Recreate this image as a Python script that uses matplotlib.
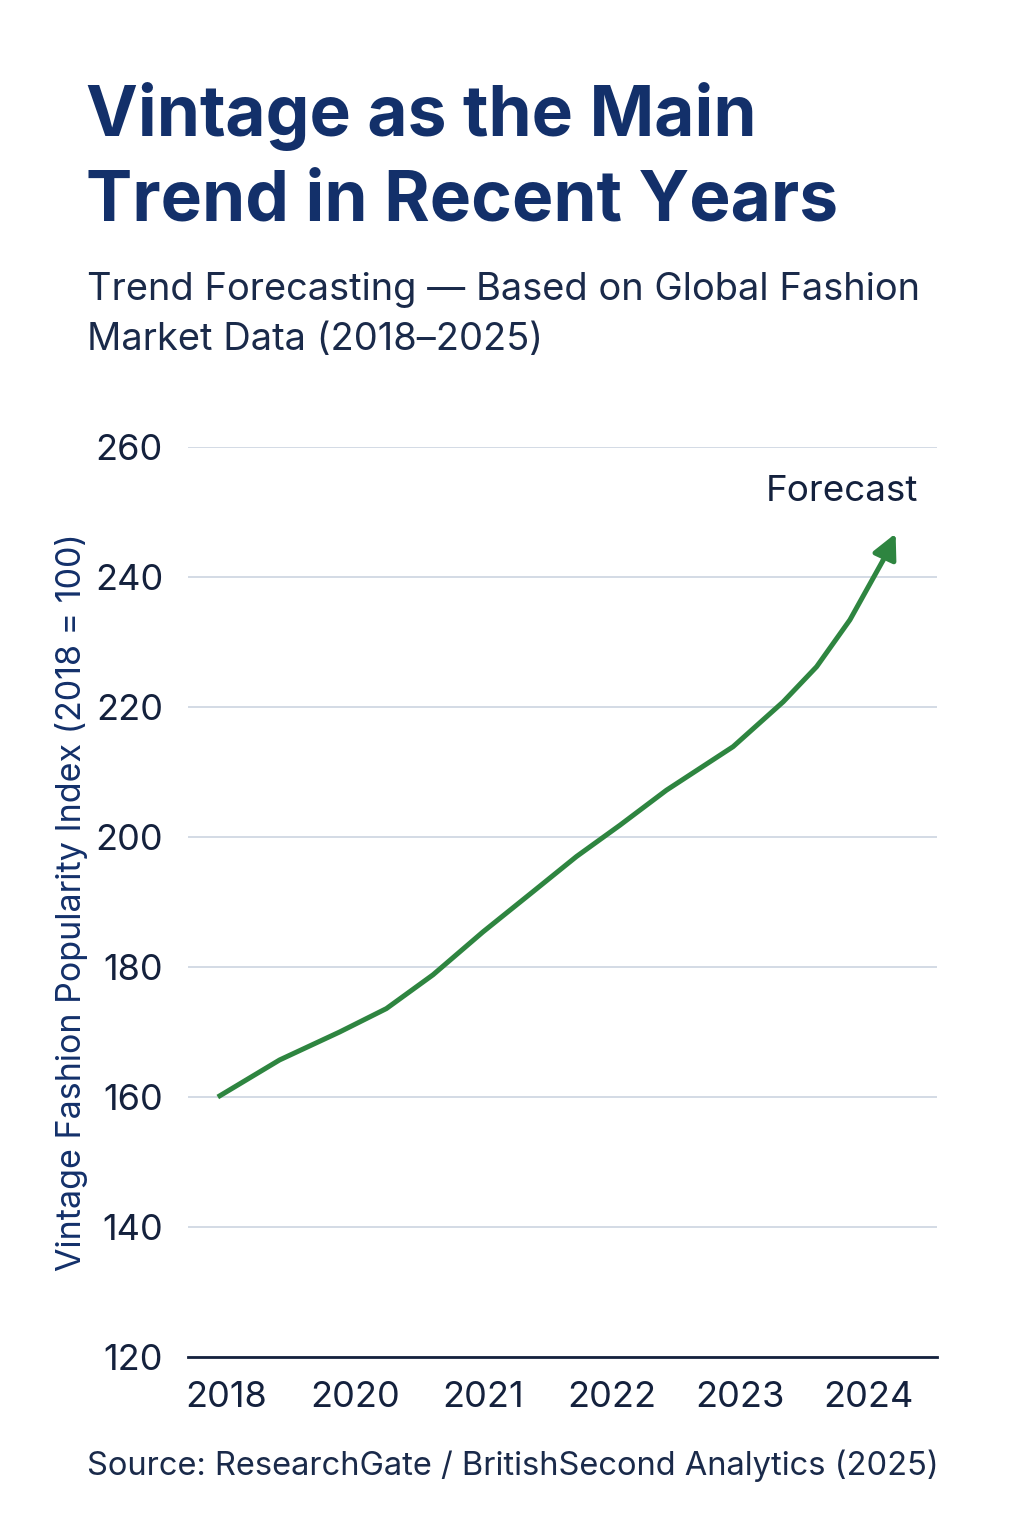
import matplotlib
matplotlib.use("Agg")
import matplotlib.pyplot as plt

plt.rcParams['font.family'] = ['Inter', 'DejaVu Sans']

# tick labels along the x axis (evenly spaced categories)
years = ["2018", "2020", "2021", "2022", "2023", "2024"]

# curve: position along the year axis, index value
curve_x = [-0.068, 0.413, 0.880, 1.244, 1.607, 1.996, 2.386, 2.724, 3.061,
           3.424, 3.943, 4.333, 4.593, 4.852, 5.111, 5.208]
curve_y = [160, 165.7, 170.0, 173.6, 178.8, 185.4, 191.6, 197.0, 201.8,
           207.2, 213.9, 220.8, 226.2, 233.4, 242.6, 246.7]

y_ticks = [120, 140, 160, 180, 200, 220, 240, 260]

navy = "#13306a"
ink = "#14213d"
green = "#2e8540"

fig = plt.figure(figsize=(10.24, 15.36), dpi=100)
ax = fig.add_axes([188 / 1024, 1 - 1357 / 1536, (937 - 188) / 1024, (1357 - 447) / 1536])

ax.plot(curve_x[:-1], curve_y[:-1], color=green, lw=3.6, solid_capstyle="butt",
        solid_joinstyle="round")
ax.annotate("", xy=(curve_x[-1], curve_y[-1]), xytext=(curve_x[-2], curve_y[-2]),
            arrowprops=dict(arrowstyle="-|>,head_length=1.5,head_width=0.75",
                            color=green, lw=3.6, shrinkA=0, shrinkB=0))

ax.set_xlim(-0.30, 5.53)
ax.set_ylim(120, 260)
ax.set_yticks(y_ticks)
ax.set_xticks(range(len(years)))
ax.set_xticklabels(years)
ax.tick_params(length=0, labelsize=26, colors=ink)
ax.tick_params(axis="x", pad=17)
ax.tick_params(axis="y", pad=18)
ax.grid(axis="y", color="#d3dbe5", lw=1.4)
ax.set_axisbelow(True)
for s in ["left", "right", "top"]:
    ax.spines[s].set_visible(False)
ax.spines["bottom"].set_color(ink)
ax.spines["bottom"].set_linewidth(2)

ax.set_ylabel("Vintage Fashion Popularity Index (2018 = 100)", fontsize=24.5, color=navy)
ax.yaxis.set_label_coords(-0.133, 0.5)

ax.text(4.79, 253.2, "Forecast", fontsize=26.5, color=ink, ha="center", va="center")

fig.text(86 / 1024, 1 - 82 / 1536, "Vintage as the Main\nTrend in Recent Years",
         fontsize=50, fontweight="bold", color=navy, va="top", ha="left", linespacing=1.36)
fig.text(87 / 1024, 1 - 272 / 1536, "Trend Forecasting — Based on Global Fashion\nMarket Data (2018–2025)",
         fontsize=27.4, color="#1a2a4a", va="top", ha="left", linespacing=1.5)
fig.text(87 / 1024, 1 - 1466 / 1536, "Source: ResearchGate / BritishSecond Analytics (2025)",
         fontsize=23.5, color="#1a2a4a", va="center", ha="left")

fig.savefig("out.png", dpi=100, facecolor="white")
